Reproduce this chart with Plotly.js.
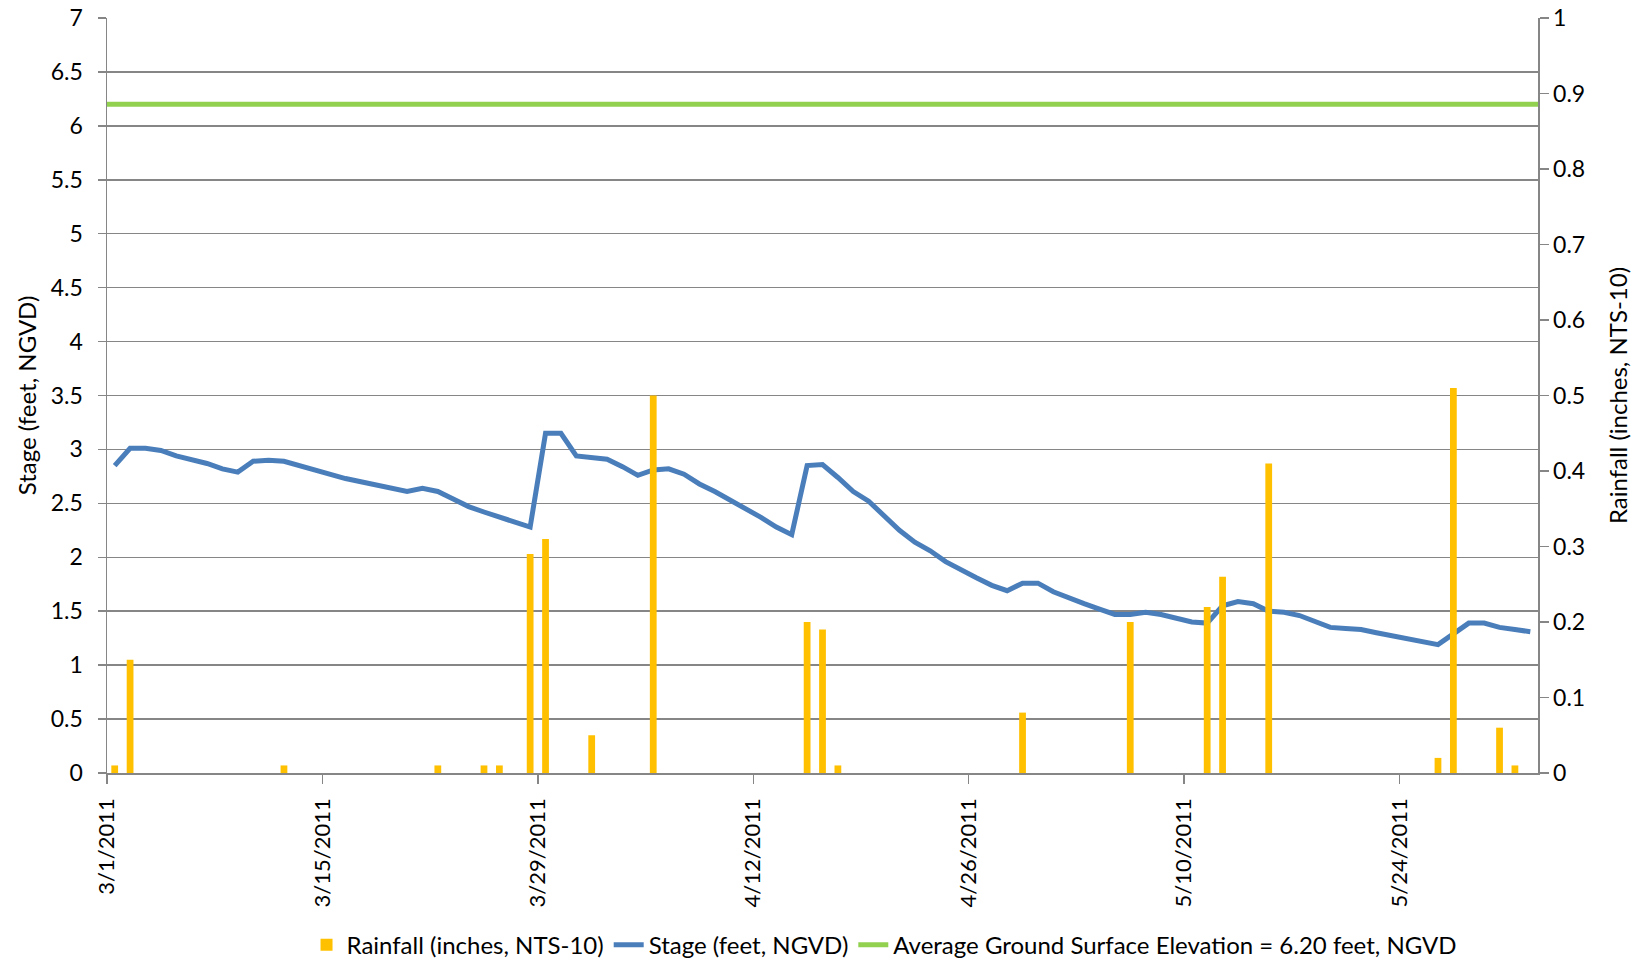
<!DOCTYPE html>
<html>
<head>
<meta charset="utf-8">
<script src="https://cdn.plot.ly/plotly-3.0.1.min.js"></script>
<style>html,body{margin:0;padding:0;background:#fff;}#chart{width:1644px;height:964px;}</style>
</head>
<body>
<div id="chart"></div>
<script>
// ---- data ----
const dates = [
'2011-03-01','2011-03-02','2011-03-03','2011-03-04','2011-03-05','2011-03-06','2011-03-07','2011-03-08','2011-03-09','2011-03-10',
'2011-03-11','2011-03-12','2011-03-13','2011-03-14','2011-03-15','2011-03-16','2011-03-17','2011-03-18','2011-03-19','2011-03-20',
'2011-03-21','2011-03-22','2011-03-23','2011-03-24','2011-03-25','2011-03-26','2011-03-27','2011-03-28','2011-03-29','2011-03-30',
'2011-03-31','2011-04-01','2011-04-02','2011-04-03','2011-04-04','2011-04-05','2011-04-06','2011-04-07','2011-04-08','2011-04-09',
'2011-04-10','2011-04-11','2011-04-12','2011-04-13','2011-04-14','2011-04-15','2011-04-16','2011-04-17','2011-04-18','2011-04-19',
'2011-04-20','2011-04-21','2011-04-22','2011-04-23','2011-04-24','2011-04-25','2011-04-26','2011-04-27','2011-04-28','2011-04-29',
'2011-04-30','2011-05-01','2011-05-02','2011-05-03','2011-05-04','2011-05-05','2011-05-06','2011-05-07','2011-05-08','2011-05-09',
'2011-05-10','2011-05-11','2011-05-12','2011-05-13','2011-05-14','2011-05-15','2011-05-16','2011-05-17','2011-05-18','2011-05-19',
'2011-05-20','2011-05-21','2011-05-22','2011-05-23','2011-05-24','2011-05-25','2011-05-26','2011-05-27','2011-05-28','2011-05-29',
'2011-05-30','2011-05-31','2011-06-01'
];

const stage = [
2.85,3.01,3.01,2.99,2.94,2.91,2.87,2.82,2.79,2.89,
2.90,2.89,2.85,2.81,2.76,2.73,2.70,2.67,2.64,2.61,
2.64,2.61,2.54,2.47,2.42,2.37,2.32,2.28,3.15,3.15,
2.94,2.92,2.91,2.84,2.76,2.81,2.82,2.77,2.68,2.61,
2.53,2.46,2.37,2.28,2.21,2.85,2.86,2.74,2.61,2.52,
2.38,2.25,2.14,2.06,1.96,1.88,1.81,1.74,1.69,1.76,
1.76,1.68,1.62,1.57,1.52,1.47,1.47,1.49,1.47,1.44,
1.40,1.39,1.55,1.59,1.57,1.50,1.49,1.46,1.41,1.35,
1.34,1.33,1.30,1.27,1.24,1.22,1.19,1.29,1.39,1.39,
1.35,1.33,1.31
];

const rainfall = [
0.01,0.15,0,0,0,0,0,0,0,0,
0,0.01,0,0,0,0,0,0,0,0,
0,0.01,0,0,0.01,0.01,0,0.29,0.31,0,
0,0.05,0,0,0,0.50,0,0,0,0,
0,0,0,0,0,0.20,0.19,0.01,0,0,
0,0,0,0,0,0,0,0,0,0.08,
0,0,0,0,0,0,0.20,0,0,0,
0,0.22,0.26,0,0,0.41,0,0,0,0,
0,0,0,0,0,0,0.02,0.51,0,0,
0.06,0.01,0
];

const groundDates = ['2011-03-01','2011-06-02'];
const groundElev = [6.20, 6.20];

const xTickStart = '2011-03-01';
const xRange = ['2011-03-01','2011-06-02'];

const names = {
  rain: 'Rainfall (inches, NTS-10)',
  stage: 'Stage (feet, NGVD)',
  ground: 'Average Ground Surface Elevation = 6.20 feet, NGVD'
};

// ---- style ----
const DAY = 86400000;
const FONT = 'Lato, "Open Sans", sans-serif';
const GRID = '#868686';

const traces = [
  {
    type: 'scatter', mode: 'lines', name: names.ground,
    x: groundDates, y: groundElev, xaxis: 'x', yaxis: 'y',
    line: {color: '#92D050', width: 5}, hoverinfo: 'y'
  },
  {
    type: 'scatter', mode: 'lines', name: names.stage,
    x: dates, y: stage, xaxis: 'x', yaxis: 'y',
    xperiod: DAY, xperiodalignment: 'middle',
    line: {color: '#4A7EBB', width: 5}
  },
  {
    type: 'bar', name: names.rain,
    x: dates, y: rainfall, xaxis: 'x', yaxis: 'y2',
    xperiod: DAY, xperiodalignment: 'middle',
    width: 0.44 * DAY,
    marker: {color: '#FFC000', line: {width: 0}}
  }
];

const layout = {
  width: 1644, height: 964,
  paper_bgcolor: '#fff', plot_bgcolor: '#fff',
  margin: {l: 107, r: 106, t: 18, b: 191, autoexpand: false},
  font: {family: FONT, size: 22, color: '#000'},
  showlegend: true,
  legend: {
    orientation: 'h', traceorder: 'reversed',
    x: 0.543, xanchor: 'center', y: -0.228, yanchor: 'middle',
    font: {family: FONT, size: 24, color: '#000'},
    bgcolor: 'rgba(0,0,0,0)'
  },
  xaxis: {
    type: 'date', range: xRange, automargin: false,
    tick0: xTickStart, dtick: 14 * DAY,
    tickformat: '%-m/%-d/%Y', tickangle: -90,
    ticks: 'outside', ticklen: 9, tickcolor: GRID, tickwidth: 1.5,
    showline: true, linecolor: GRID, linewidth: 1.5,
    showgrid: false, zeroline: false,
    tickfont: {family: FONT, size: 22, color: '#000'},
    ticklabelstandoff: 6
  },
  yaxis: {
    range: [0, 7], dtick: 0.5, tick0: 0, automargin: false,
    ticks: 'outside', ticklen: 8, tickcolor: GRID, tickwidth: 1.5,
    showline: true, linecolor: GRID, linewidth: 1.5,
    showgrid: true, gridcolor: GRID, gridwidth: 1.5, zeroline: false,
    tickfont: {family: FONT, size: 23, color: '#000'},
    ticklabelstandoff: 10,
    title: {text: 'Stage (feet, NGVD)', font: {family: FONT, size: 24, color: '#000'}, standoff: 7}
  },
  yaxis2: {
    overlaying: 'y', side: 'right', automargin: false,
    range: [0, 1], dtick: 0.1, tick0: 0,
    ticks: 'outside', ticklen: 9, tickcolor: GRID, tickwidth: 1.5,
    showline: true, linecolor: GRID, linewidth: 1.5,
    showgrid: false, zeroline: false,
    tickfont: {family: FONT, size: 23, color: '#000'},
    ticklabelstandoff: 0,
    title: {text: 'Rainfall (inches, NTS-10)', font: {family: FONT, size: 24, color: '#000'}, standoff: 26}
  }
};

Plotly.newPlot('chart', traces, layout, {staticPlot: true, displayModeBar: false});
</script>
</body>
</html>
